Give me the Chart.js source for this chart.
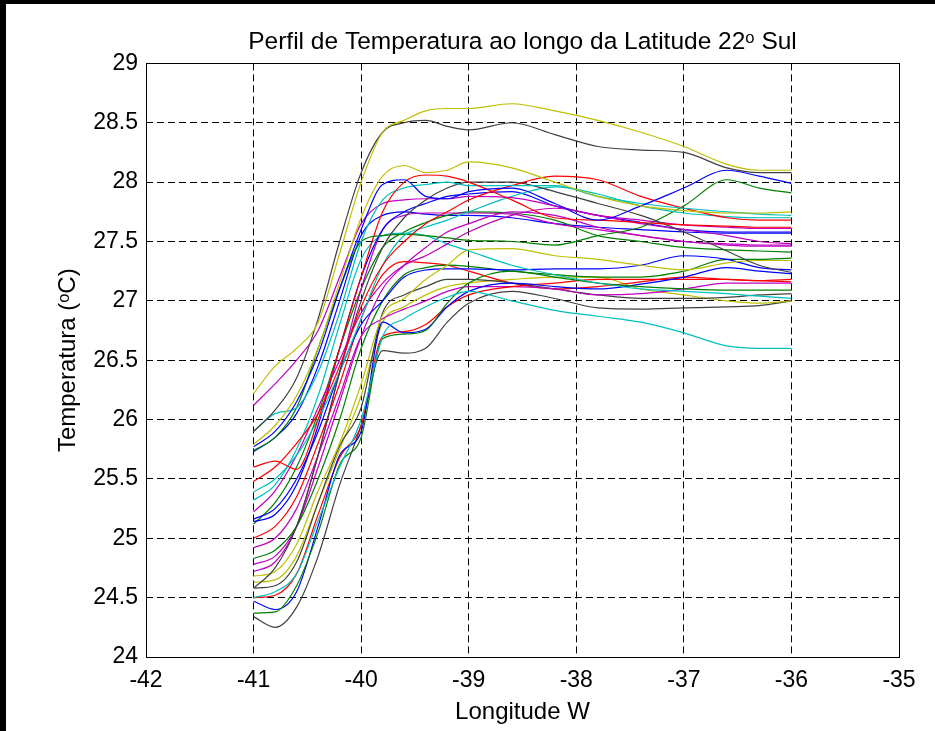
<!DOCTYPE html>
<html>
<head>
<meta charset="utf-8">
<script src="https://cdn.jsdelivr.net/npm/chart.js@4.4.0/dist/chart.umd.min.js"></script>
<style>
html, body { margin: 0; padding: 0; background: #000; overflow: hidden; }
#wrap { position: absolute; left: 6px; top: 4px; width: 929px; height: 727px; background: #fff; }
</style>
</head>
<body>
<div id="wrap"><canvas id="myChart" width="929" height="727"></canvas></div>
<script>
"use strict";

// longitudes (W) onde cada perfil foi lido
const lon = [-41, -40.8, -40.6, -40.4, -40.2, -40, -39.8, -39.6, -39.4, -39.2, -39, -38.6, -38.2, -37.8, -37.4, -37, -36.6, -36.3, -36];

// perfis de temperatura (oC)
const t01 = [26.22, 26.45, 26.6, 26.82, 27.4, 28.0, 28.42, 28.52, 28.6, 28.62, 28.62, 28.66, 28.6, 28.52, 28.42, 28.3, 28.15, 28.1, 28.1];
const t02 = [25.9, 26.08, 26.35, 26.85, 27.5, 28.08, 28.42, 28.5, 28.52, 28.47, 28.44, 28.5, 28.4, 28.3, 28.27, 28.25, 28.12, 28.08, 28.08];
const t03 = [25.79, 25.95, 26.2, 26.6, 27.15, 27.7, 28.05, 28.14, 28.08, 28.1, 28.17, 28.12, 28.0, 27.88, 27.8, 27.76, 27.74, 27.74, 27.75];
const t04 = [25.77, 25.9, 26.15, 26.55, 27.1, 27.6, 27.98, 28.02, 27.88, 27.86, 27.92, 27.95, 27.82, 27.68, 27.8, 27.95, 28.1, 28.05, 27.99];
const t05 = [25.6, 25.65, 25.58, 26.0, 26.6, 27.2, 27.75, 28.0, 28.06, 28.05, 28.0, 27.85, 27.7, 27.68, 27.66, 27.64, 27.63, 27.62, 27.62];
const t06 = [25.9, 26.05, 26.1, 26.4, 26.9, 27.5, 27.85, 27.95, 27.98, 28.0, 27.97, 27.97, 27.97, 27.88, 27.82, 27.78, 27.75, 27.73, 27.72];
const t07 = [25.48, 25.6, 25.8, 26.05, 26.45, 26.95, 27.3, 27.5, 27.65, 27.75, 27.85, 27.97, 28.05, 28.02, 27.88, 27.78, 27.7, 27.68, 27.68];
const t08 = [24.58, 24.75, 25.1, 25.7, 26.4, 27.0, 27.45, 27.7, 27.85, 27.95, 28.0, 28.0, 27.92, 27.82, 27.72, 27.58, 27.42, 27.3, 27.24];
const t09 = [26.12, 26.3, 26.5, 26.75, 27.2, 27.65, 27.82, 27.85, 27.86, 27.86, 27.88, 27.87, 27.8, 27.72, 27.68, 27.64, 27.62, 27.61, 27.61];
const t10 = [25.39, 25.5, 25.7, 26.0, 26.4, 26.85, 27.3, 27.55, 27.62, 27.68, 27.75, 27.88, 27.96, 27.9, 27.8, 27.74, 27.71, 27.7, 27.7];
const t11 = [25.74, 25.85, 26.1, 26.6, 27.1, 27.5, 27.55, 27.56, 27.55, 27.53, 27.51, 27.5, 27.47, 27.55, 27.62, 27.8, 28.02, 27.95, 27.91];
const t12 = [25.22, 25.4, 25.7, 26.1, 26.5, 26.9, 27.15, 27.3, 27.38, 27.48, 27.58, 27.72, 27.78, 27.72, 27.65, 27.6, 27.55, 27.5, 27.48];
const t13 = [25.14, 25.2, 25.45, 25.95, 26.6, 27.2, 27.6, 27.75, 27.82, 27.88, 27.9, 27.92, 27.8, 27.72, 27.66, 27.6, 27.58, 27.58, 27.58];
const t14 = [25.32, 25.45, 25.75, 26.2, 26.8, 27.35, 27.55, 27.57, 27.55, 27.48, 27.42, 27.3, 27.22, 27.15, 27.1, 27.08, 27.06, 27.04, 27.02];
const t15 = [24.5, 24.55, 24.7, 25.15, 25.6, 26.0, 26.7, 26.85, 26.95, 27.03, 27.08, 27.0, 26.92, 26.87, 26.82, 26.73, 26.62, 26.6, 26.6];
const t16 = [24.68, 24.72, 24.95, 25.4, 25.8, 26.3, 26.88, 27.02, 27.18, 27.3, 27.43, 27.44, 27.38, 27.35, 27.3, 27.26, 27.32, 27.34, 27.34];
const t17 = [24.37, 24.38, 24.6, 25.05, 25.62, 25.85, 26.68, 26.72, 26.75, 26.98, 27.15, 27.25, 27.2, 27.15, 27.12, 27.1, 27.09, 27.09, 27.09];
const t18 = [24.47, 24.4, 24.55, 25.1, 25.7, 25.9, 26.82, 26.73, 26.76, 26.95, 27.08, 27.15, 27.12, 27.1, 27.14, 27.2, 27.28, 27.25, 27.23];
const t19 = [24.5, 24.52, 24.7, 25.2, 25.68, 25.95, 26.7, 26.74, 26.8, 26.95, 27.05, 27.12, 27.15, 27.18, 27.18, 27.18, 27.18, 27.17, 27.18];
const t20 = [25.16, 25.25, 25.5, 25.9, 26.4, 26.8, 27.0, 27.2, 27.26, 27.27, 27.27, 27.26, 27.27, 27.27, 27.3, 27.38, 27.35, 27.28, 27.26];
const t21 = [24.83, 24.9, 25.1, 25.5, 26.0, 26.6, 27.0, 27.22, 27.28, 27.3, 27.29, 27.25, 27.22, 27.2, 27.2, 27.25, 27.35, 27.35, 27.36];
const t22 = [24.92, 25.0, 25.25, 25.7, 26.2, 26.7, 26.85, 26.93, 27.0, 27.08, 27.12, 27.12, 27.1, 27.05, 27.06, 27.1, 27.15, 27.15, 27.15];
const t23 = [24.58, 24.6, 24.8, 25.3, 25.78, 26.1, 26.9, 27.05, 27.12, 27.18, 27.18, 27.15, 27.1, 27.05, 27.02, 27.02, 27.03, 27.05, 27.06];
const t24 = [25.0, 25.1, 25.35, 25.8, 26.3, 26.85, 27.22, 27.33, 27.32, 27.3, 27.25, 27.15, 27.1, 27.12, 27.16, 27.2, 27.18, 27.17, 27.16];
const t25 = [24.72, 24.8, 25.1, 25.7, 26.4, 27.1, 27.6, 27.72, 27.74, 27.74, 27.74, 27.73, 27.65, 27.6, 27.55, 27.5, 27.47, 27.46, 27.46];
const t26 = [24.78, 24.85, 25.1, 25.6, 26.15, 26.7, 27.1, 27.3, 27.45, 27.58, 27.65, 27.75, 27.72, 27.62, 27.55, 27.5, 27.48, 27.47, 27.47];
const t27 = [25.12, 25.3, 25.6, 26.05, 26.6, 27.1, 27.45, 27.58, 27.66, 27.72, 27.75, 27.74, 27.68, 27.55, 27.5, 27.45, 27.43, 27.42, 27.41];
const t28 = [24.63, 24.65, 24.85, 25.3, 25.75, 26.2, 26.82, 26.95, 27.05, 27.12, 27.15, 27.18, 27.2, 27.2, 27.1, 27.05, 27.0, 26.98, 27.0];
const t29 = [24.34, 24.25, 24.42, 24.85, 25.45, 25.95, 26.58, 26.56, 26.6, 26.82, 26.98, 27.08, 27.02, 26.94, 26.93, 26.94, 26.95, 26.96, 27.0];
const t30 = [25.73, 25.85, 26.05, 26.45, 27.0, 27.55, 27.72, 27.75, 27.73, 27.72, 27.72, 27.7, 27.65, 27.62, 27.6, 27.58, 27.57, 27.57, 27.57];

const perfis = [t01, t02, t03, t04, t05, t06, t07, t08, t09, t10, t11, t12, t13, t14, t15,
                t16, t17, t18, t19, t20, t21, t22, t23, t24, t25, t26, t27, t28, t29, t30];
const cores = ["y", "k", "y", "b", "r", "c", "r", "k", "m", "c", "g", "m", "b", "c", "c",
               "y", "g", "b", "r", "b", "g", "m", "k", "r", "m", "m", "g", "y", "k", "b"];

// cores padrao do matlab
const matlab = { b: "#0000ff", g: "#008000", r: "#ff0000", c: "#00bfbf", m: "#bf00bf", y: "#bfbf00", k: "#404040" };

const fonte = "'Liberation Sans', Arial, Helvetica, sans-serif";

const datasets = perfis.map((p, i) => ({
    data: p.map((v, j) => ({ x: lon[j], y: v })),
    borderColor: matlab[cores[i]],
    borderWidth: 1.2,
    pointRadius: 0,
    cubicInterpolationMode: "monotone",
    fill: false
}));

// moldura do grafico (caixa do matlab)
const moldura = {
    id: "moldura",
    afterDatasetsDraw(chart) {
        const ctx = chart.ctx;
        const a = chart.chartArea;
        ctx.save();
        ctx.strokeStyle = "#000";
        ctx.lineWidth = 1;
        ctx.setLineDash([]);
        ctx.strokeRect(Math.round(a.left) + 0.5, Math.round(a.top) + 0.5,
            Math.round(a.right - a.left), Math.round(a.bottom - a.top));
        ctx.restore();
    }
};

function gradeCor(min, max) {
    return c => (c.tick && (c.tick.value === min || c.tick.value === max)) ? "rgba(0,0,0,0)" : "#000";
}

const ctx = document.getElementById("myChart").getContext("2d");
new Chart(ctx, {
    type: "line",
    data: { datasets: datasets },
    options: {
        responsive: false,
        animation: false,
        devicePixelRatio: 1,
        layout: { padding: { left: 0, right: 36, top: 0, bottom: 0 } },
        plugins: {
            legend: { display: false },
            tooltip: { enabled: false },
            title: {
                display: true,
                fullSize: false,
                text: "Perfil de Temperatura ao longo da Latitude 22ᵒ Sul",
                color: "#000",
                font: { family: fonte, size: 24.5, weight: "normal" },
                padding: { top: 24, bottom: 6 }
            }
        },
        scales: {
            x: {
                type: "linear",
                min: -42,
                max: -35,
                afterFit: s => { s.height = 74; },
                ticks: { stepSize: 1, color: "#000", padding: 10, font: { family: fonte, size: 23 }, callback: v => v },
                grid: { color: gradeCor(-42, -35), lineWidth: 1, drawTicks: false },
                border: { display: false, dash: [7, 4] },
                title: { display: true, text: "Longitude W", color: "#000", padding: { top: 2 }, font: { family: fonte, size: 24 } }
            },
            y: {
                type: "linear",
                min: 24,
                max: 29,
                afterFit: s => { s.width = 140; },
                ticks: { stepSize: 0.5, color: "#000", padding: 8, font: { family: fonte, size: 23 }, callback: v => v },
                grid: { color: gradeCor(24, 29), lineWidth: 1, drawTicks: false },
                border: { display: false, dash: [7, 4] },
                title: { display: true, text: "Temperatura (ᵒC)", color: "#000", padding: { top: 48 }, font: { family: fonte, size: 24 } }
            }
        }
    },
    plugins: [moldura]
});
</script>
</body>
</html>
